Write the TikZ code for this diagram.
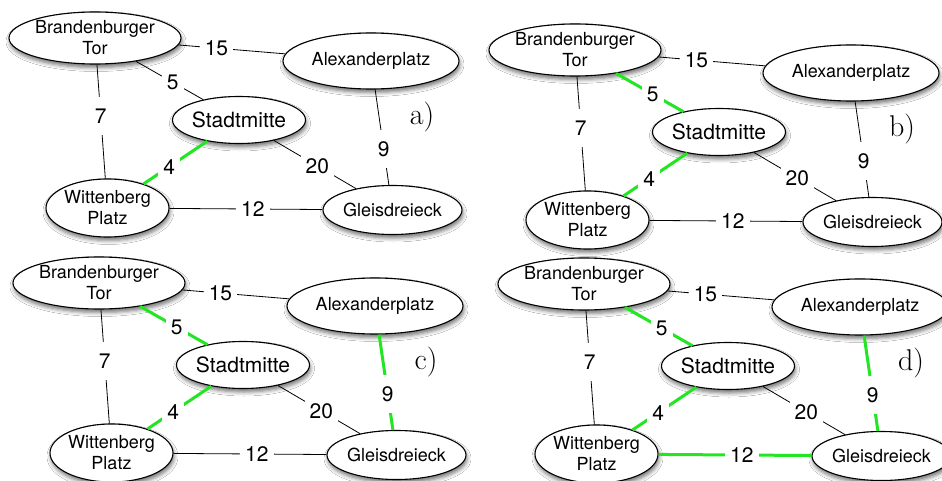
\documentclass[tikz,border=0pt]{standalone}
\usepackage{fontspec}
\newfontfamily\heros{TeX Gyre Heros}
\usetikzlibrary{shapes.geometric,shadows.blur}
\definecolor{treegreen}{RGB}{34,230,34}
\tikzset{
  station/.style={ellipse, draw=black, line width=1.1pt, fill=white, inner sep=0pt,
    blur shadow={shadow xshift=1pt, shadow yshift=-3.5pt, shadow blur radius=4pt, shadow opacity=55}},
  names/.style={align=center, font=\heros\fontsize{18}{21}\selectfont, inner sep=0pt},
  bigname/.style={font=\heros\fontsize{21}{24}\selectfont, inner sep=0pt},
  weight/.style={fill=white, font=\heros\fontsize{21}{24}\selectfont,
    inner xsep=5pt, inner ysep=0pt, minimum height=38pt},
  panelmark/.style={font=\fontsize{30}{32}\selectfont, inner sep=0pt},
  road/.style={draw=black, line width=0.8pt},
  tree/.style={draw=treegreen, line width=3pt},
  w15/.style={}, w5/.style={}, w7/.style={}, w4/.style={},
  w20/.style={}, w9/.style={}, w12/.style={}
}
% #1 node prefix, #2 position of Brandenburger Tor, #3 panel letter, #4 edges of the tree
\newcommand\stationgraph[4]{%
  \begin{scope}[shift={#2},#4]
    \node[station, minimum width=172pt, minimum height=52pt,
      label={[names]center:{Brandenburger\\Tor}}] (#1bt) at (0,0) {};
    \node[station, minimum width=176pt, minimum height=56pt,
      label={[names]center:Alexanderplatz}] (#1al) at (276,23) {};
    \node[station, minimum width=133pt, minimum height=47pt,
      label={[bigname]center:Stadtmitte}] (#1sm) at (144,82) {};
    \node[station, minimum width=123pt, minimum height=58pt,
      label={[names]center:{Wittenberg\\Platz}}] (#1wp) at (12.5,170) {};
    \node[station, minimum width=139pt, minimum height=49pt,
      label={[names]center:Gleisdreieck}] (#1gl) at (297.5,172) {};
    \node[panelmark] (#1tag) at (327,79) {#3)};
    \draw[road,w15] (#1bt) -- (#1al);
    \draw[road,w5]  (#1bt) -- (#1sm);
    \draw[road,w7]  (#1bt) -- (#1wp);
    \draw[road,w4]  (#1wp) -- (#1sm);
    \draw[road,w20] (#1sm) -- (#1gl);
    \draw[road,w9]  (#1al) -- (#1gl);
    \draw[road,w12] (#1wp) -- (#1gl);
    \path (#1bt.center) -- node[weight,pos=.44] (#1n15) {15} (#1al.center);
    \path (#1bt.center) -- node[weight,pos=.54] (#1n5) {5} (#1sm.center);
    \path (#1bt.center) -- node[weight,pos=.46] (#1n7) {7} (#1wp.center);
    \path (#1wp.center) -- node[weight,pos=.47] (#1n4) {4} (#1sm.center);
    \path (#1sm.center) -- node[weight,pos=.51] (#1n20) {20} (#1gl.center);
    \path (#1al.center) -- node[weight,pos=.59] (#1n9) {9} (#1gl.center);
    \path (#1wp.center) -- node[weight,pos=.51] (#1n12) {12} (#1gl.center);
  \end{scope}}
\begin{document}
\begin{tikzpicture}[x=1pt, y=-1pt]
  \useasboundingbox[fill=white] (0,0) rectangle (942,481);
  \stationgraph{a}{(95,38)}{a}{w4/.style=tree}
  \stationgraph{b}{(575,50)}{b}{w4/.style=tree, w5/.style=tree}
  \stationgraph{c}{(99,283)}{c}{w4/.style=tree, w5/.style=tree, w9/.style=tree}
  \stationgraph{d}{(584,284)}{d}{w4/.style=tree, w5/.style=tree, w9/.style=tree, w12/.style=tree}
\end{tikzpicture}
\end{document}
